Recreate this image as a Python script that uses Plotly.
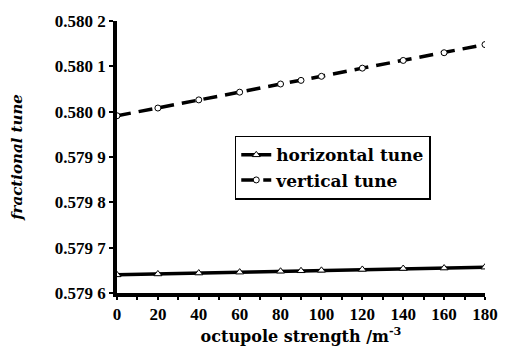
import plotly.graph_objects as go

strength = [0, 20, 40, 60, 80, 90, 100, 120, 140, 160, 180]
horizontal_tune = [0.579640, 0.579642, 0.579644, 0.579646, 0.579648, 0.579649,
                   0.579650, 0.579652, 0.579654, 0.579655, 0.579657]
vertical_tune = [0.579991, 0.580008, 0.580026, 0.580043, 0.580061, 0.580069,
                 0.580078, 0.580096, 0.580113, 0.580130, 0.580148]
y_tick_vals = [0.5796, 0.5797, 0.5798, 0.5799, 0.5800, 0.5801, 0.5802]
y_tick_text = ["0.579 6", "0.579 7", "0.579 8", "0.579 9", "0.580 0", "0.580 1", "0.580 2"]
x_tick_vals = [0, 20, 40, 60, 80, 100, 120, 140, 160, 180]
x_tick_text = [str(v) for v in x_tick_vals]

tick_font = dict(family="Liberation Serif", size=17, color="black", weight="bold")
title_font = dict(family="DejaVu Serif", size=16, color="black", weight="bold")

fig = go.Figure()
fig.add_trace(go.Scatter(
    x=strength, y=horizontal_tune, name="horizontal tune",
    mode="lines+markers",
    line=dict(color="black", width=3.5),
    marker=dict(symbol="triangle-up", size=7, color="white", line=dict(width=1, color="black")),
))
fig.add_trace(go.Scatter(
    x=strength, y=vertical_tune, name="vertical tune",
    mode="lines+markers",
    line=dict(color="black", width=3.5, dash="14px,8px"),
    marker=dict(symbol="circle", size=6, color="white", line=dict(width=1, color="black")),
))

fig.update_layout(
    width=510, height=353,
    margin=dict(l=117, r=22, t=18, b=60),
    paper_bgcolor="white", plot_bgcolor="white",
    font=dict(family="Liberation Serif", size=16, color="black"),
    showlegend=True,
    legend=dict(
        x=0.32, y=0.578, xanchor="left", yanchor="top",
        bordercolor="black", borderwidth=1.5, bgcolor="white",
        font=dict(family="DejaVu Serif", size=17, color="black", weight="bold"),
        tracegroupgap=0, itemwidth=30,
    ),
    xaxis=dict(
        range=[0, 180], tickmode="array", tickvals=x_tick_vals, ticktext=x_tick_text,
        ticks="outside", ticklen=3, tickwidth=2, tickcolor="black",
        showline=True, linecolor="black", linewidth=3.5,
        showgrid=False, zeroline=False,
        tickfont=tick_font,
        minor=dict(dtick=10, ticks="outside", ticklen=3, tickwidth=2, tickcolor="black"),
        title=dict(text="octupole strength /m<sup>-3</sup>", font=title_font, standoff=2),
    ),
    yaxis=dict(
        range=[0.5796, 0.5802], tickmode="array", tickvals=y_tick_vals, ticktext=y_tick_text,
        ticks="outside", ticklen=4, tickwidth=2, tickcolor="black",
        showline=True, linecolor="black", linewidth=3.5,
        showgrid=False, zeroline=False,
        tickfont=tick_font,
        title=dict(text="<i>fractional tune</i>",
                   font=dict(family="DejaVu Serif", size=15, color="black", weight="bold"),
                   standoff=30),
    ),
)

fig.write_html("out.html")
